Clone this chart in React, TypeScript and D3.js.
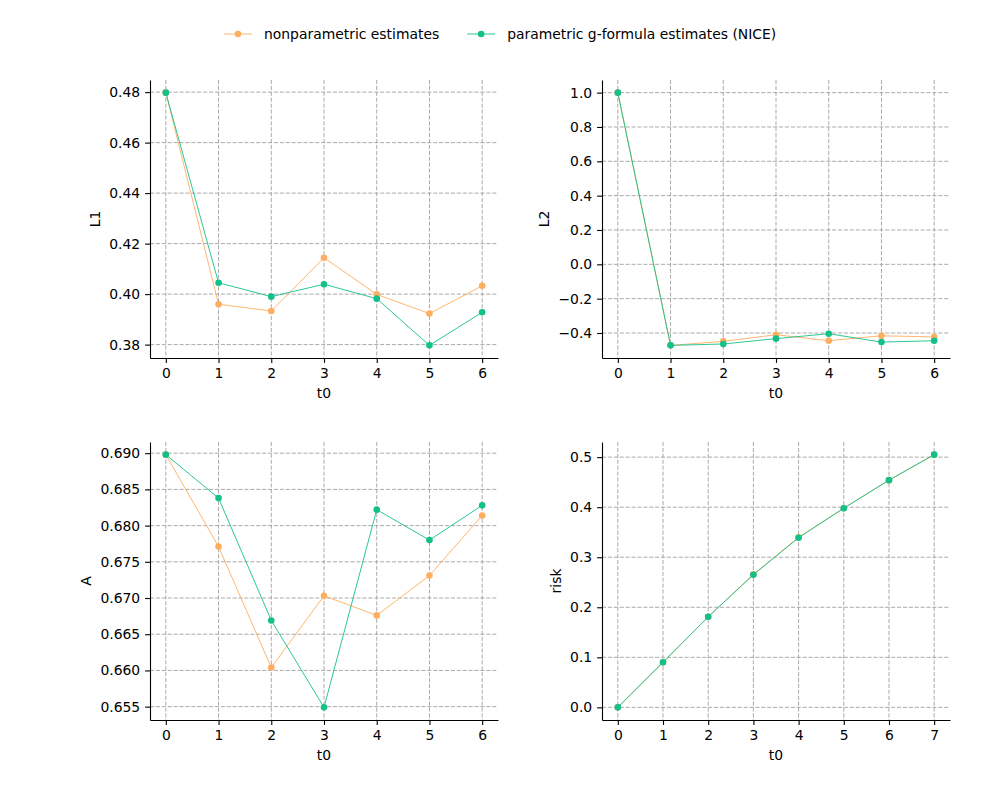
import { useEffect, useRef } from 'react'
import * as d3 from 'd3'

// time points
const tShort = [0, 1, 2, 3, 4, 5, 6]
const tRisk = [0, 1, 2, 3, 4, 5, 6, 7]

// series values
const l1Nonpar = [0.4798, 0.3960, 0.3933, 0.4144, 0.3999, 0.3923, 0.4033]
const l1Nice = [0.4798, 0.4045, 0.3990, 0.4039, 0.3982, 0.3797, 0.3928]
const l2Nonpar = [1.0, -0.472, -0.449, -0.410, -0.445, -0.416, -0.423]
const l2Nice = [1.0, -0.472, -0.464, -0.433, -0.404, -0.453, -0.445]
const aNonpar = [0.6898, 0.6771, 0.6604, 0.6703, 0.6676, 0.6731, 0.6814]
const aNice = [0.6898, 0.6838, 0.6669, 0.6549, 0.6822, 0.6780, 0.6828]
const riskNonpar = [0, 0.090, 0.181, 0.266, 0.340, 0.398, 0.454, 0.505]
const riskNice = [0, 0.090, 0.181, 0.265, 0.339, 0.398, 0.454, 0.505]

// tick labels
const l1Ticks = [0.38, 0.40, 0.42, 0.44, 0.46, 0.48]
const l2Ticks = [-0.4, -0.2, 0.0, 0.2, 0.4, 0.6, 0.8, 1.0]
const aTicks = [0.655, 0.660, 0.665, 0.670, 0.675, 0.680, 0.685, 0.690]
const riskTicks = [0.0, 0.1, 0.2, 0.3, 0.4, 0.5]

const seriesNames = ['nonparametric estimates', 'parametric g-formula estimates (NICE)']
const colors = ['#fdae61', '#14c08a']

const FONT = 'DejaVu Sans'
const FS = 13.9
const W = 1000
const H = 800
const AX_W = 348
const AX_H = 278

interface Panel {
  t: number[]
  series: number[][]
  ticks: number[]
  fmt: string
  label: string
  left: number
  top: number
}

const panels: Panel[] = [
  { t: tShort, series: [l1Nonpar, l1Nice], ticks: l1Ticks, fmt: '.2f', label: 'L1', left: 150, top: 80 },
  { t: tShort, series: [l2Nonpar, l2Nice], ticks: l2Ticks, fmt: '.1f', label: 'L2', left: 602, top: 80 },
  { t: tShort, series: [aNonpar, aNice], ticks: aTicks, fmt: '.3f', label: 'A', left: 150, top: 442 },
  { t: tRisk, series: [riskNonpar, riskNice], ticks: riskTicks, fmt: '.1f', label: 'risk', left: 602, top: 442 },
]

// matplotlib-style 5% margins
function padded(ext: [number, number]): [number, number] {
  const r = ext[1] - ext[0]
  return [ext[0] - 0.05 * r, ext[1] + 0.05 * r]
}

export default function App() {
  const svgRef = useRef<SVGSVGElement>(null)

  useEffect(() => {
    if (!svgRef.current) return
    const svg = d3.select(svgRef.current)
    svg.selectAll('*').remove()
    svg.append('rect').attr('width', W).attr('height', H).attr('fill', '#fff')

    panels.forEach(p => {
      const g = svg.append('g').attr('transform', `translate(${p.left},${p.top})`)
      const x = d3.scaleLinear().domain(padded(d3.extent(p.t) as [number, number])).range([0, AX_W])
      const allY = p.series.flat()
      const y = d3.scaleLinear().domain(padded(d3.extent(allY) as [number, number])).range([AX_H, 0])

      // grid
      const grid = g.append('g')
      grid.selectAll('line.gx').data(p.t).enter().append('line')
        .attr('x1', d => x(d)).attr('x2', d => x(d)).attr('y1', 0).attr('y2', AX_H)
      grid.selectAll('line.gy').data(p.ticks).enter().append('line')
        .attr('x1', 0).attr('x2', AX_W).attr('y1', d => y(d)).attr('y2', d => y(d))
      grid.selectAll('line').attr('stroke', '#a0a0a0').attr('stroke-width', 0.9).attr('stroke-dasharray', '4.1,1.8')

      // lines + markers
      p.series.forEach((vals, i) => {
        const pts = vals.map((v, k) => [p.t[k], v] as [number, number])
        g.append('path').datum(pts)
          .attr('fill', 'none').attr('stroke', colors[i]).attr('stroke-width', 0.9)
          .attr('d', d3.line().x(d => x(d[0])).y(d => y(d[1])))
        g.append('g').selectAll('circle').data(pts).enter().append('circle')
          .attr('cx', d => x(d[0])).attr('cy', d => y(d[1])).attr('r', 3.3).attr('fill', colors[i])
      })

      // axes
      const styleAx = (ax: d3.Selection<SVGGElement, unknown, null, undefined>) => {
        ax.select('.domain').attr('stroke', '#000').attr('stroke-width', 1.1)
        ax.selectAll('.tick line').attr('stroke', '#000').attr('stroke-width', 1.1)
        ax.selectAll('.tick text').attr('fill', '#000').attr('font-size', FS).attr('font-family', FONT)
      }
      g.append('g').attr('transform', `translate(0,${AX_H})`)
        .call(d3.axisBottom(x).tickValues(p.t).tickFormat(d3.format('d')).tickSize(4.9).tickSizeOuter(0).tickPadding(4.9))
        .call(styleAx)
      const yAx = g.append('g')
        .call(d3.axisLeft(y).tickValues(p.ticks).tickFormat(d3.format(p.fmt)).tickSize(4.9).tickSizeOuter(0).tickPadding(4.9))
        .call(styleAx)

      let maxW = 0
      yAx.selectAll<SVGTextElement, unknown>('.tick text').each(function () {
        maxW = Math.max(maxW, this.getComputedTextLength())
      })

      g.append('text').attr('x', AX_W / 2).attr('y', AX_H + 40).attr('text-anchor', 'middle')
        .attr('font-family', FONT).attr('font-size', FS).attr('fill', '#000').text('t0')
      g.append('text').attr('transform', `translate(${-4.9 - 4.9 - maxW - 9},${AX_H / 2}) rotate(-90)`)
        .attr('text-anchor', 'middle').attr('font-family', FONT).attr('font-size', FS).attr('fill', '#000').text(p.label)
    })

    // legend
    const leg = svg.append('g')
    let cx = 224
    seriesNames.forEach((name, i) => {
      leg.append('line').attr('x1', cx).attr('x2', cx + 28).attr('y1', 34).attr('y2', 34)
        .attr('stroke', colors[i]).attr('stroke-width', 0.9)
      leg.append('circle').attr('cx', cx + 14).attr('cy', 34).attr('r', 3.3).attr('fill', colors[i])
      const txt = leg.append('text').attr('x', cx + 40).attr('y', 34).attr('dy', '0.35em')
        .attr('font-family', FONT).attr('font-size', FS).attr('fill', '#000').text(name)
      const len = (txt.node() as SVGTextElement).getComputedTextLength()
      cx = cx + 40 + len + 28
    })
  }, [])

  return (
    <svg ref={svgRef} width={W} height={H} style={{ position: 'absolute', left: 0, top: 0, display: 'block' }} />
  )
}
